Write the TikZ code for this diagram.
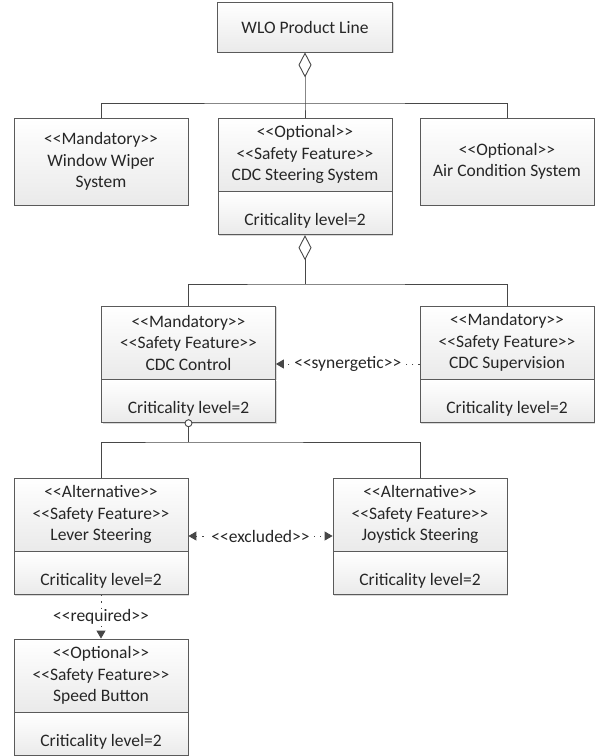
\documentclass[tikz,border=0pt]{standalone}
\usepackage{fontspec}
\setmainfont{Carlito}
\usetikzlibrary{arrows.meta,shadows}
\definecolor{edge}{HTML}{5A5A5A}
\definecolor{ink}{HTML}{262626}
\definecolor{wire}{HTML}{474747}
\definecolor{boxbot}{HTML}{EAEAEA}
\newcommand\guL{<\kern0pt<}
\newcommand\guR{>\kern0pt>}
\begin{document}
\begin{tikzpicture}[x=1pt,y=1pt,
  font=\fontsize{17.5}{21.5}\selectfont, text=ink,
  box/.style={draw=edge, line width=0.8pt, top color=white, bottom color=boxbot,
    align=center, inner sep=0pt, minimum width=174pt,
    drop shadow={shadow xshift=1.3pt, shadow yshift=-1.3pt, opacity=0.3, fill=gray}},
  comp/.style={box, anchor=north, minimum height=43pt, text height=34pt, text depth=9pt},
  conn/.style={draw=wire, line width=0.9pt},
  dep/.style={draw=wire, line width=0.9pt, dash pattern=on 1.2pt off 5pt},
  tipT/.tip={Triangle[length=8pt,width=9pt]},
  lbl/.style={fill=white, inner xsep=4pt, inner ysep=1pt, text=ink}
]
\useasboundingbox (0,0) rectangle (602,-756);

% level 0
\node[box, minimum width=175pt, minimum height=50pt] (wlo) at (305,-27) {WLO Product Line};

% level 1
\node[box, minimum height=87pt] (ww) at (101,-161.5) {\guL Mandatory\guR\\Window Wiper\\System};
\node[box, minimum height=73pt] (cdcs) at (305,-154.5) {\guL Optional\guR\\\guL Safety Feature\guR\\CDC Steering System};
\node[comp] (cdcsC) at (cdcs.south) {Criticality level=2};
\node[box, minimum height=87pt] (ac) at (507,-161.5) {\guL Optional\guR\\Air Condition System};

% level 2
\node[box, minimum height=73pt] (ctrl) at (188.5,-342.5) {\guL Mandatory\guR\\\guL Safety Feature\guR\\CDC Control};
\node[comp] (ctrlC) at (ctrl.south) {Criticality level=2};
\node[box, minimum height=73pt] (sup) at (507,-342.5) {\guL Mandatory\guR\\\guL Safety Feature\guR\\CDC Supervision};
\node[comp] (supC) at (sup.south) {Criticality level=2};

% level 3
\node[box, minimum height=73pt] (lever) at (101,-514.5) {\guL Alternative\guR\\\guL Safety Feature\guR\\Lever Steering};
\node[comp] (leverC) at (lever.south) {Criticality level=2};
\node[box, minimum height=73pt] (joy) at (420,-514.5) {\guL Alternative\guR\\\guL Safety Feature\guR\\Joystick Steering};
\node[comp] (joyC) at (joy.south) {Criticality level=2};

% level 4
\node[box, minimum height=73pt] (speed) at (101,-675.5) {\guL Optional\guR\\\guL Safety Feature\guR\\Speed Button};
\node[comp] (speedC) at (speed.south) {Criticality level=2};

% aggregation WLO
\coordinate (b1) at (305,-103);
\draw[conn, {Diamond[open,length=25pt,width=13pt]}-] (wlo.south) -- (b1) -- (cdcs.north);
\draw[conn] (ww.north) |- (b1) -| (ac.north);

% aggregation CDC Steering
\coordinate (b2) at (305,-284);
\draw[conn, {Diamond[open,length=25pt,width=13pt]}-] (cdcsC.south) -- (b2);
\draw[conn] (ctrl.north) |- (b2) -| (sup.north);

% alternative group
\node[circle, draw=wire, line width=0.9pt, fill=white, inner sep=0pt, minimum size=7pt] (alt) at (ctrlC.south) {};
\coordinate (b3) at (188.5,-442);
\draw[conn] (alt.south) -- (b3);
\draw[conn] (lever.north) |- (b3) -| (joy.north);

% dependencies
\draw[dep, -{tipT}] ([yshift=-21.5pt]sup.west) -- node[lbl] {\guL synergetic\guR} ([yshift=-21.5pt]ctrl.east);
\draw[dep, {tipT}-{tipT}] ([yshift=-21.5pt]lever.east) -- node[lbl] {\guL excluded\guR} ([yshift=-21.5pt]joy.west);
\draw[dep, -{tipT}] (leverC.south) -- node[lbl, inner ysep=0pt] {\guL required\guR} (speed.north);
\end{tikzpicture}
\end{document}
